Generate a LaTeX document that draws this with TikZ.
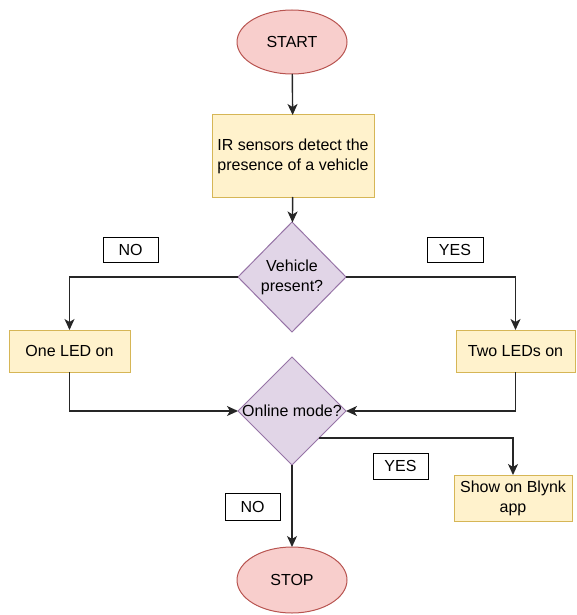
\documentclass[tikz,border=0pt]{standalone}
\usepackage{fontspec}
\setmainfont{Liberation Sans}
\usetikzlibrary{shapes.geometric,arrows.meta,calc}

\definecolor{termfill}{HTML}{F8CECC}
\definecolor{termdraw}{HTML}{B85450}
\definecolor{procfill}{HTML}{FFF2CC}
\definecolor{procdraw}{HTML}{D6B656}
\definecolor{decfill}{HTML}{E1D5E7}
\definecolor{decdraw}{HTML}{9673A6}

\tikzset{
  every node/.style={font=\fontsize{16}{20}\selectfont, inner sep=0pt, outer sep=0pt},
  terminal/.style={ellipse, draw=termdraw, fill=termfill, line width=1pt,
                   minimum width=110pt, minimum height=64pt},
  process/.style={rectangle, draw=procdraw, fill=procfill, line width=1pt, align=center},
  decision/.style={diamond, draw=decdraw, fill=decfill, line width=1pt, aspect=1},
  tag/.style={rectangle, draw=black, fill=white, line width=1pt},
  flow/.style={draw=black!85, line width=1.4pt, -{Stealth[length=11pt,width=10pt,inset=3pt]}},
}

\begin{document}
\begin{tikzpicture}[x=1pt, y=-1pt]
  \useasboundingbox (0,0) rectangle (576,615);

  % main column
  \node[terminal] (start) at (292,42) {START};
  \node[process, minimum width=162pt, minimum height=82pt] (ir) at (293,156)
       {IR sensors detect the\\presence of a vehicle};
  \node[decision, minimum width=108pt, minimum height=110pt] (veh) at (292,277) {};
  \node[align=center] (vehtext) at (veh.center) {Vehicle\\present?};

  % branch results
  \node[process, minimum width=121pt, minimum height=42pt] (one) at (69.5,351) {One LED on};
  \node[process, minimum width=119pt, minimum height=42pt] (two) at (515.5,351) {Two LEDs on};

  \node[decision, minimum width=108pt, minimum height=108pt] (online) at (292,411) {};
  \node (onlinetext) at (online.center) {Online mode?};

  \node[process, minimum width=118pt, minimum height=46pt] (show) at (513,498)
       {Show on Blynk\\app};
  \node[terminal, minimum height=66pt] (stop) at (292,580) {STOP};

  % branch tags
  \node[tag, minimum width=55pt, minimum height=25pt] (noA) at (130.5,249.5) {NO};
  \node[tag, minimum width=56pt, minimum height=25pt] (yesA) at (455,249.5) {YES};
  \node[tag, minimum width=55pt, minimum height=26pt] (yesB) at (400.5,466) {YES};
  \node[tag, minimum width=55pt, minimum height=27pt] (noB) at (252.5,506.5) {NO};

  % connectors
  \draw[flow] (start) -- (ir);
  \draw[flow] (ir) -- (veh);
  \draw[flow] (veh.west) -| (one.north);
  \draw[flow] (veh.east) -| (two.north);
  \draw[flow] (one.south) |- (online.west);
  \draw[flow] (two.south) |- (online.east);
  \coordinate (onlineout) at ($(online.east)!0.5!(online.south)$);
  \draw[flow] (onlineout) -| (show.north);
  \draw[flow] (online.south) -- (stop.north);
\end{tikzpicture}
\end{document}
